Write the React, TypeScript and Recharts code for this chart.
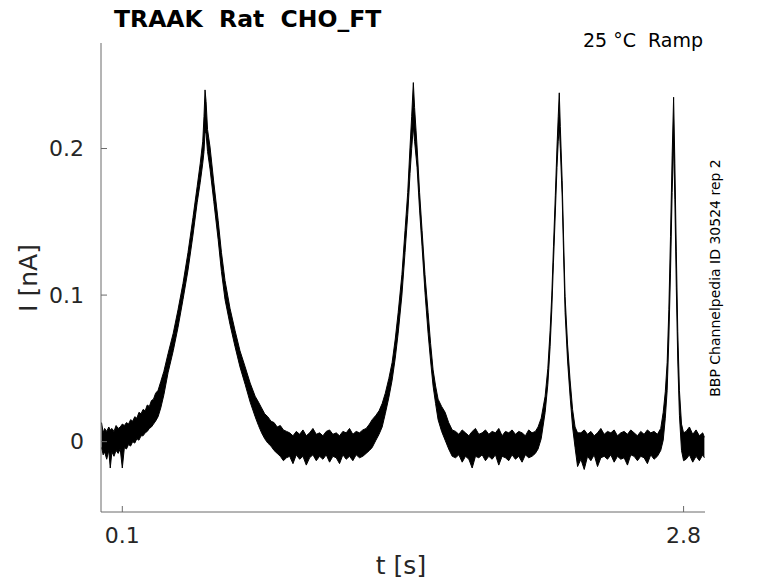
import React from 'react';
import { ComposedChart, Area, XAxis, YAxis } from 'recharts';

// time [s]
const T = [
  0.000, 0.008, 0.015, 0.025, 0.035, 0.042, 0.050, 0.060, 0.070, 0.080, 0.090, 0.100, 0.110, 0.120, 0.130,
  0.140, 0.150, 0.160, 0.170, 0.180, 0.190, 0.200, 0.210, 0.220, 0.230, 0.240, 0.250, 0.260, 0.272, 0.285,
  0.300, 0.320, 0.345, 0.368, 0.392, 0.416, 0.440, 0.460, 0.475, 0.487, 0.493, 0.498, 0.503, 0.510, 0.522,
  0.540, 0.561, 0.577, 0.594, 0.618, 0.642, 0.666, 0.691, 0.715, 0.739, 0.755, 0.770, 0.785, 0.800, 0.815,
  0.830, 0.845, 0.860, 0.875, 0.890,
  0.905, 0.921, 0.937, 0.953, 0.969, 0.985, 1.001, 1.017, 1.033, 1.049, 1.065, 1.081, 1.097, 1.113, 1.129,
  1.145, 1.161, 1.177, 1.193, 1.209, 1.225, 1.241, 1.257, 1.273, 1.289,
  1.302, 1.320, 1.335, 1.350, 1.365, 1.382, 1.398, 1.413, 1.427, 1.445, 1.460, 1.473, 1.484, 1.492, 1.500,
  1.506, 1.518, 1.530, 1.542, 1.556, 1.571, 1.583, 1.595, 1.607, 1.619, 1.636, 1.653, 1.670, 1.687,
  1.703, 1.719, 1.735, 1.751, 1.767, 1.783, 1.799, 1.815, 1.831, 1.847, 1.863, 1.879, 1.895, 1.911, 1.927,
  1.943, 1.959, 1.975, 1.991, 2.007, 2.023, 2.039, 2.055, 2.071, 2.087,
  2.100, 2.115, 2.134, 2.147, 2.158, 2.166, 2.174, 2.183, 2.191, 2.197, 2.202, 2.207, 2.216, 2.223, 2.230,
  2.242, 2.254, 2.266, 2.278, 2.290,
  2.306, 2.322, 2.338, 2.354, 2.370, 2.386, 2.402, 2.418, 2.434, 2.450, 2.466, 2.482, 2.498, 2.514, 2.530,
  2.546, 2.562, 2.578, 2.594, 2.610, 2.626, 2.642, 2.658, 2.674, 2.690,
  2.702, 2.712, 2.721, 2.729, 2.737, 2.745, 2.752, 2.758, 2.765, 2.772, 2.780, 2.790, 2.800,
  2.812, 2.828, 2.844, 2.860, 2.876, 2.892, 2.900,
];

// upper edge of the noisy current trace [nA]
const HI = [
  0.013, 0.006, 0.009, 0.007, 0.010, 0.008, 0.009, 0.007, 0.011, 0.009, 0.010, 0.012, 0.011, 0.013, 0.012,
  0.015, 0.014, 0.017, 0.016, 0.020, 0.019, 0.022, 0.021, 0.025, 0.024, 0.028, 0.029, 0.033, 0.035, 0.041,
  0.048, 0.060, 0.074, 0.090, 0.108, 0.129, 0.153, 0.174, 0.190, 0.205, 0.222, 0.240, 0.232, 0.213, 0.201,
  0.177, 0.151, 0.129, 0.110, 0.091, 0.076, 0.062, 0.051, 0.040, 0.031, 0.027, 0.023, 0.019, 0.017, 0.014,
  0.013, 0.010, 0.011, 0.008, 0.007,
  0.006, 0.004, 0.007, 0.005, 0.008, 0.004, 0.006, 0.009, 0.005, 0.006, 0.004, 0.007, 0.008, 0.005, 0.006,
  0.004, 0.007, 0.006, 0.009, 0.005, 0.007, 0.006, 0.008, 0.009, 0.012,
  0.015, 0.018, 0.021, 0.026, 0.033, 0.043, 0.054, 0.070, 0.088, 0.114, 0.144, 0.170, 0.201, 0.222, 0.245,
  0.228, 0.201, 0.170, 0.144, 0.114, 0.088, 0.067, 0.049, 0.038, 0.029, 0.024, 0.020, 0.013, 0.008,
  0.007, 0.005, 0.008, 0.006, 0.004, 0.007, 0.009, 0.005, 0.006, 0.008, 0.005, 0.007, 0.006, 0.009, 0.004,
  0.007, 0.006, 0.008, 0.005, 0.007, 0.006, 0.004, 0.008, 0.006, 0.007,
  0.010, 0.016, 0.031, 0.050, 0.076, 0.100, 0.133, 0.168, 0.201, 0.222, 0.238, 0.215, 0.178, 0.137, 0.099,
  0.066, 0.042, 0.022, 0.010, 0.006,
  0.006, 0.008, 0.005, 0.007, 0.004, 0.006, 0.009, 0.005, 0.007, 0.006, 0.008, 0.004, 0.006, 0.007, 0.005,
  0.008, 0.006, 0.004, 0.007, 0.005, 0.008, 0.006, 0.007, 0.005, 0.009,
  0.020, 0.034, 0.054, 0.090, 0.140, 0.195, 0.235, 0.190, 0.130, 0.075, 0.035, 0.012, 0.006,
  0.007, 0.010, 0.005, 0.008, 0.004, 0.006, 0.003,
];

// lower edge of the noisy current trace [nA]
const LO = [
  -0.004, -0.009, -0.007, -0.012, -0.006, -0.018, -0.007, -0.010, -0.006, -0.008, -0.005, -0.018, -0.004, -0.005, -0.002,
  -0.003, 0.000, -0.001, 0.002, 0.001, 0.004, 0.004, 0.006, 0.007, 0.009, 0.010, 0.012, 0.014, 0.017, 0.023,
  0.032, 0.047, 0.062, 0.078, 0.097, 0.117, 0.141, 0.163, 0.177, 0.190, 0.198, 0.212, 0.210, 0.198, 0.186,
  0.164, 0.138, 0.116, 0.097, 0.080, 0.065, 0.051, 0.039, 0.027, 0.017, 0.011, 0.006, 0.002, -0.001, -0.003,
  -0.006, -0.008, -0.010, -0.013, -0.011,
  -0.010, -0.015, -0.009, -0.012, -0.010, -0.016, -0.011, -0.009, -0.013, -0.010, -0.012, -0.009, -0.014, -0.010, -0.011,
  -0.015, -0.009, -0.012, -0.010, -0.013, -0.009, -0.011, -0.010, -0.008, -0.006,
  -0.004, 0.001, 0.005, 0.010, 0.019, 0.030, 0.042, 0.057, 0.074, 0.100, 0.129, 0.155, 0.183, 0.200, 0.215,
  0.205, 0.187, 0.158, 0.133, 0.102, 0.074, 0.055, 0.038, 0.026, 0.015, 0.007, 0.001, -0.005, -0.010,
  -0.011, -0.009, -0.014, -0.010, -0.012, -0.018, -0.010, -0.011, -0.009, -0.013, -0.010, -0.012, -0.009, -0.016, -0.010,
  -0.011, -0.013, -0.009, -0.012, -0.010, -0.014, -0.009, -0.011, -0.010, -0.008,
  -0.005, 0.002, 0.020, 0.039, 0.065, 0.090, 0.122, 0.156, 0.187, 0.205, 0.215, 0.200, 0.167, 0.126, 0.088,
  0.055, 0.031, 0.010, -0.004, -0.017,
  -0.012, -0.019, -0.010, -0.013, -0.009, -0.017, -0.011, -0.010, -0.012, -0.009, -0.014, -0.010, -0.012, -0.011, -0.016,
  -0.009, -0.010, -0.013, -0.010, -0.011, -0.015, -0.009, -0.012, -0.010, -0.006,
  0.001, 0.016, 0.035, 0.070, 0.115, 0.170, 0.205, 0.165, 0.105, 0.055, 0.018, -0.006, -0.013,
  -0.012, -0.009, -0.014, -0.010, -0.013, -0.009, -0.011,
];

const X_TICKS = [0.1, 2.8];
const Y_TICKS = [0, 0.1, 0.2];
const X_DOMAIN = [-0.0025, 2.903];
const Y_DOMAIN = [-0.048, 0.272];

const TITLE = 'TRAAK  Rat  CHO_FT';
const CONDITION = '25 \u00B0C  Ramp';
const SOURCE = 'BBP Channelpedia ID 30524 rep 2';
const X_LABEL = 't [s]';
const Y_LABEL = 'I [nA]';

const n = Math.min(T.length, HI.length, LO.length);
const data = T.slice(0, n).map((t, i) => ({ t, band: [LO[i], HI[i]] }));

const FONT = '"DejaVu Sans", sans-serif';
const AXIS = '#6a6a6a';
const TXT = '#262626';

const XTick = (props: any) => {
  const { x, y, payload } = props;
  return (
    <g>
      <line x1={x} x2={x} y1={y} y2={y - 6} stroke={AXIS} strokeWidth={1} />
      <text x={x} y={y + 31} textAnchor="middle" fontSize={22} fill={TXT} fontFamily={FONT}>
        {String(payload.value)}
      </text>
    </g>
  );
};

const YTick = (props: any) => {
  const { x, y, payload } = props;
  return (
    <g>
      <line x1={x} x2={x + 6} y1={y} y2={y} stroke={AXIS} strokeWidth={1} />
      <text x={x - 17} y={y} dy="0.35em" textAnchor="end" fontSize={22} fill={TXT} fontFamily={FONT}>
        {String(payload.value)}
      </text>
    </g>
  );
};

export default function App() {
  return (
    <div style={{ position: 'absolute', left: 0, top: 0, width: 778, height: 583, background: '#fff' }}>
      <ComposedChart width={778} height={583} data={data} margin={{ top: 43, right: 73, bottom: 0, left: 0 }}>
        <XAxis
          dataKey="t"
          type="number"
          domain={X_DOMAIN}
          ticks={X_TICKS}
          allowDataOverflow
          interval={0}
          height={71}
          tickSize={0}
          tickMargin={0}
          tickLine={false}
          axisLine={{ stroke: AXIS, strokeWidth: 1 }}
          tick={<XTick />}
        />
        <YAxis
          type="number"
          domain={Y_DOMAIN}
          ticks={Y_TICKS}
          allowDataOverflow
          interval={0}
          width={101}
          tickSize={0}
          tickMargin={0}
          tickLine={false}
          axisLine={{ stroke: AXIS, strokeWidth: 1 }}
          tick={<YTick />}
        />
        <Area
          dataKey="band"
          type="linear"
          stroke="#000"
          strokeWidth={1}
          fill="#000"
          fillOpacity={1}
          dot={false}
          activeDot={false}
          isAnimationActive={false}
        />
      </ComposedChart>
      <svg
        width={778}
        height={583}
        style={{ position: 'absolute', left: 0, top: 0, pointerEvents: 'none' }}
        fontFamily={FONT}
      >
        <text x={114} y={27} fontSize={23.5} fontWeight="bold" fill="#000" style={{ whiteSpace: 'pre' }}>
          {TITLE}
        </text>
        <text x={703} y={47} fontSize={19} textAnchor="end" fill="#000" style={{ whiteSpace: 'pre' }}>
          {CONDITION}
        </text>
        <text x={720} y={278} fontSize={14} textAnchor="middle" fill="#000" transform="rotate(-90 720 278)">
          {SOURCE}
        </text>
        <text x={37} y={278} fontSize={25} textAnchor="middle" fill={TXT} transform="rotate(-90 37 278)">
          {Y_LABEL}
        </text>
        <text x={401} y={574} fontSize={25} textAnchor="middle" fill={TXT}>
          {X_LABEL}
        </text>
      </svg>
    </div>
  );
}
